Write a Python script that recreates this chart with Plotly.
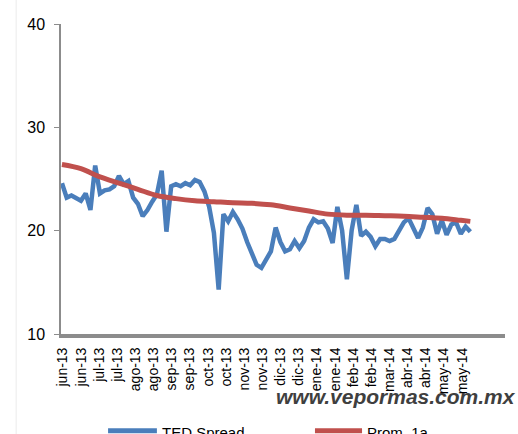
import plotly.graph_objects as go

# ---- data -------------------------------------------------------------
tick_labels = ["jun-13", "jun-13", "jul-13", "jul-13", "ago-13", "ago-13",
               "sep-13", "sep-13", "oct-13", "oct-13", "nov-13", "nov-13",
               "dic-13", "dic-13", "ene-14", "ene-14", "feb-14", "feb-14",
               "mar-14", "abr-14", "abr-14", "may-14", "may-14"]
tick_pos = [0.2 + 3.82 * k for k in range(len(tick_labels))]

ted_spread = [24.6, 23.2, 23.4, 23.2, 22.9, 23.6, 22.0, 26.3, 23.6, 23.9,
              24.0, 24.3, 25.3, 24.5, 24.8, 23.2, 22.6, 21.4, 22.0, 22.8,
              23.5, 25.8, 19.9, 24.3, 24.5, 24.3, 24.6, 24.4, 24.9, 24.7,
              23.8, 22.3, 19.8, 14.3, 21.6, 20.9, 21.8, 21.1, 20.2, 18.9,
              17.8, 16.7, 16.4, 17.2, 18.0, 20.3, 18.9, 18.0, 18.2, 19.0,
              18.3, 19.0, 20.3, 21.1, 20.8, 20.9, 20.2, 18.8, 22.3, 20.0,
              15.3, 20.0, 22.5, 19.5, 19.9, 19.4, 18.5, 19.2, 19.2, 19.0,
              19.2, 20.0, 20.8, 21.2, 20.2, 19.3, 20.3, 22.2, 21.6, 19.7,
              21.0, 19.6, 20.6, 20.8, 19.7, 20.4, 19.9]
ted_x = list(range(len(ted_spread)))

prom_x = [0, 4, 8, 12, 16, 20, 24, 28, 32, 36, 40, 44, 48, 52, 56, 60,
          64, 68, 72, 76, 80, 84, 86]
prom_1a = [26.4, 26.0, 25.2, 24.6, 24.0, 23.4, 23.1, 22.9, 22.8, 22.7,
           22.65, 22.5, 22.2, 21.9, 21.6, 21.5, 21.5, 21.45, 21.4, 21.3,
           21.2, 21.0, 20.9]

y_ticks = [10, 20, 30, 40]

BLUE = "#4A7EBB"
RED = "#C0504D"
FONT = "Liberation Sans, Arial, sans-serif"

# ---- figure -----------------------------------------------------------
fig = go.Figure()
fig.add_trace(go.Scatter(x=ted_x, y=ted_spread, mode="lines", name="TED Spread",
                         line=dict(color=BLUE, width=4.5), showlegend=False))
fig.add_trace(go.Scatter(x=prom_x, y=prom_1a, mode="lines", name="Prom. 1a",
                         line=dict(color=RED, width=5, shape="spline"),
                         showlegend=False))

fig.update_layout(
    width=518, height=434,
    margin=dict(l=61, r=13, t=24, b=100),
    paper_bgcolor="white", plot_bgcolor="white",
    font=dict(family=FONT, color="black"),
    xaxis=dict(range=[-0.2, 93.3], tickmode="array", tickvals=tick_pos,
               ticktext=tick_labels, tickangle=-90, showgrid=False,
               zeroline=False, showline=True, linecolor="#8C8C8C",
               linewidth=4, ticks="", tickfont=dict(size=14, family=FONT),
               ticklabelstandoff=4, automargin=False),
    yaxis=dict(range=[10, 40], tickvals=y_ticks, showgrid=False,
               zeroline=False, showline=True, linecolor="#8C8C8C",
               linewidth=1.5, ticks="outside", ticklen=5, tickcolor="#8C8C8C",
               tickfont=dict(size=16, family=FONT), ticklabelstandoff=6,
               automargin=False),
)

# faint frame edge at left
fig.add_shape(type="line", xref="paper", yref="paper", x0=-0.101, x1=-0.101,
              y0=-0.5, y1=1.2, line=dict(color="#EBEBEB", width=1))

# watermark
fig.add_annotation(xref="paper", yref="paper", x=1.03, y=-0.203,
                   xanchor="right", yanchor="middle", showarrow=False,
                   text="<b><i>www.vepormas.com.mx</i></b>",
                   font=dict(size=21, color="#3F3F3F", family=FONT))

# legend (bottom, partially cut like the reference)
fig.add_shape(type="line", xref="paper", yref="paper", x0=0.106, x1=0.216,
              y0=-0.312, y1=-0.312, line=dict(color=BLUE, width=5))
fig.add_annotation(xref="paper", yref="paper", x=0.223, y=-0.318,
                   xanchor="left", yanchor="middle", showarrow=False,
                   text="TED Spread", font=dict(size=15, color="black", family=FONT))
fig.add_shape(type="line", xref="paper", yref="paper", x0=0.572, x1=0.678,
              y0=-0.312, y1=-0.312, line=dict(color=RED, width=5))
fig.add_annotation(xref="paper", yref="paper", x=0.685, y=-0.318,
                   xanchor="left", yanchor="middle", showarrow=False,
                   text="Prom. 1a", font=dict(size=15, color="black", family=FONT))

fig.write_html("out.html", config={"displayModeBar": False},
               post_script="document.body.style.margin='0';document.body.style.overflow='hidden';")
